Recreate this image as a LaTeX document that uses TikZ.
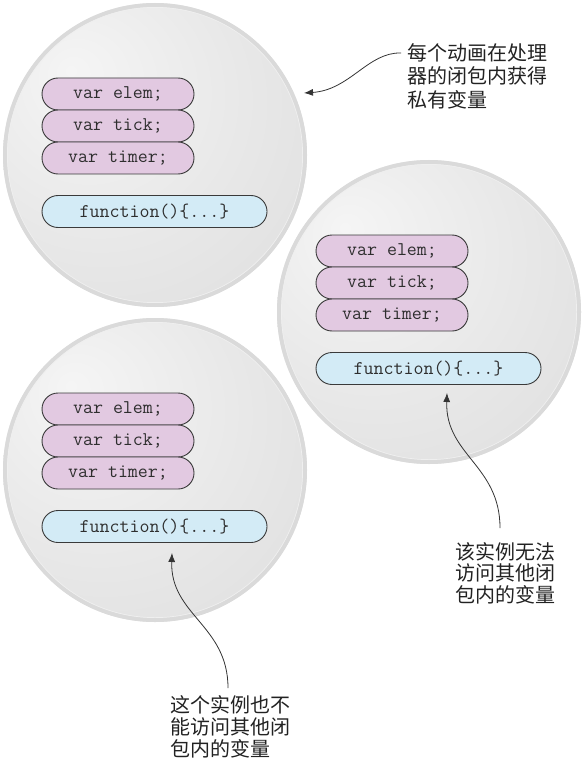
\documentclass[tikz,border=0pt]{standalone}
\usepackage{fontspec}
\newfontfamily\cjk{Noto Sans CJK SC}
\usetikzlibrary{arrows.meta,calc}
\definecolor{pinkfill}{HTML}{E2C9E1}
\definecolor{bluefill}{HTML}{D3EBF6}
\definecolor{pillline}{HTML}{3A3A3A}
\definecolor{codetext}{HTML}{2E2E2E}
\definecolor{rimcol}{HTML}{DADADA}
\definecolor{rimhi}{HTML}{EFEFEF}
\definecolor{bubA}{HTML}{F5F5F5}
\definecolor{bubB}{HTML}{E8E8E8}
\definecolor{bubC}{HTML}{DADADA}
\definecolor{notetext}{HTML}{222222}
\definecolor{arrowcol}{HTML}{333333}
\pgfdeclareradialshading{bubble}{\pgfpoint{-14bp}{14bp}}{color(0bp)=(bubA); color(24bp)=(bubB); color(52bp)=(bubC); color(70bp)=(bubC)}
\newcommand\closurebubble[3]{%
  \coordinate (#1) at (#2,#3);
  \shade[shading=bubble] (#1) circle (152pt);
  \draw[rimcol, line width=4pt] (#1) circle (150pt);
  \draw[rimhi, line width=0.7pt] (#1) circle (147.6pt);
  \node[varpill] (#1elem)  at ($(#1)+(-37,-61)$) {var elem;};
  \node[varpill] (#1tick)  at ($(#1)+(-37,-29)$) {var tick;};
  \node[varpill] (#1timer) at ($(#1)+(-37,3)$) {var timer;};
  \node[fnpill]  (#1fn)    at ($(#1)+(-0.5,56.5)$) {function()\{...\}};
}
\begin{document}
\begin{tikzpicture}[x=1pt,y=-1pt,
  pill/.style={draw=pillline, line width=0.9pt, rounded corners=16pt,
    minimum height=32pt, inner sep=0pt, text=codetext,
    font=\ttfamily\fontsize{19.4}{19.4}\selectfont},
  varpill/.style={pill, fill=pinkfill, minimum width=152pt},
  fnpill/.style={pill, fill=bluefill, minimum width=225pt},
  note/.style={inner sep=0pt, align=left, text=notetext, anchor=north west},
  callout/.style={draw=arrowcol, line width=0.8pt, -{Latex[length=9pt,width=7pt]}}
]
\useasboundingbox (0,0) rectangle (586,762);
\closurebubble{c1}{155}{155}
\closurebubble{c2}{429}{312}
\closurebubble{c3}{155}{470}

\node[note, font=\cjk\fontsize{20}{23.5}\selectfont] (t1) at (407,43) {每个动画在处理\\器的闭包内获得\\私有变量};
\node[note, font=\cjk\fontsize{20}{21.5}\selectfont] (t2) at (455,542) {该实例无法\\访问其他闭\\包内的变量};
\node[note, font=\cjk\fontsize{20}{22}\selectfont] (t3) at (170,695) {这个实例也不\\能访问其他闭\\包内的变量};

\coordinate (a1s) at (401,53);
\coordinate (a1e) at (304,93);
\coordinate (a2s) at (500,528);
\coordinate (a2e) at (447,393);
\coordinate (a3s) at (228,688);
\coordinate (a3e) at (172,553);
\draw[callout] (a1s) .. controls (368,52) and (350,90) .. (a1e);
\draw[callout] (a2s) .. controls (500,465) and (445,455) .. (a2e);
\draw[callout] (a3s) .. controls (228,625) and (170,615) .. (a3e);
\end{tikzpicture}
\end{document}
